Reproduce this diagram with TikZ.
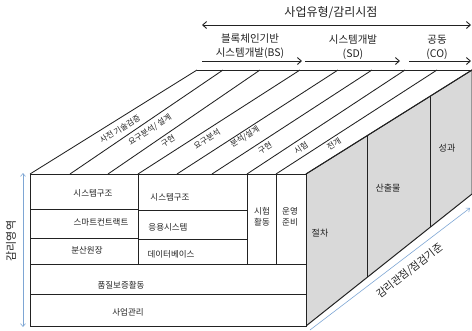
\documentclass[tikz,border=0pt]{standalone}
\usepackage{fontspec}
\setmainfont{Noto Sans CJK KR}
\usetikzlibrary{arrows.meta,calc}
\definecolor{sidegray}{HTML}{D9D9D9}
\definecolor{axisblue}{HTML}{7EA6D4}
\definecolor{ink}{HTML}{222222}
\begin{document}
\begin{tikzpicture}[x=1pt,y=-1pt,
  outline/.style={draw=ink,line width=1pt},
  stripe/.style={draw=ink,line width=0.85pt},
  ftxt/.style={font=\fontsize{8.5}{11}\selectfont,text=ink,inner sep=0pt,align=center},
  stxt/.style={font=\fontsize{8}{9}\selectfont,text=ink,inner sep=0pt,rotate=32.5},
  sidetxt/.style={font=\fontsize{9}{11}\selectfont,text=ink,inner sep=0pt},
  toptxt/.style={font=\fontsize{10.5}{14}\selectfont,text=ink,inner sep=0pt,align=center},
  toparrow/.style={draw=ink,line width=0.9pt,-{Straight Barb[length=4pt,width=7pt]}},
  bluearrow/.style={draw=axisblue,line width=0.6pt},
]
\useasboundingbox (0,0) rectangle (472,330);

% key corners
\coordinate (F1) at (30,174);
\coordinate (F2) at (306,174);
\coordinate (F3) at (306,326);
\coordinate (F4) at (30,326);
\coordinate (B0) at (197,70);
\coordinate (B8) at (472,70);
\coordinate (SB) at (472,194);

% top face
\fill[white] (F1) -- (B0) -- (B8) -- (F2) -- cycle;
\draw[draw=ink,line width=0.6pt] (B0) -- (B8);

% side face
\filldraw[fill=sidegray,outline] (F2) -- (B8) -- (SB) -- (F3) -- cycle;
\draw[outline] ($(F2)!0.3675!(B8)$) coordinate (d1t) -- ($(F3)!0.3675!(SB)$) coordinate (d1b);
\draw[outline] ($(F2)!0.747!(B8)$) coordinate (d2t) -- ($(F3)!0.747!(SB)$) coordinate (d2b);

% stripes on top face
\foreach \b/\t [count=\i] in {30/197,70/223,108/260,138/300,177/338,212/372,247/405,276/437,306/472}{
  \coordinate (sb\i) at (\b,174);
  \coordinate (st\i) at (\t,70);
  \draw[stripe] (sb\i) -- (st\i);
}

% front face
\filldraw[fill=white,outline] (F1) rectangle (F3);
\coordinate (v1t) at (138,174); \coordinate (v1b) at (138,264);
\coordinate (v2t) at (247,174); \coordinate (v2b) at (247,264);
\coordinate (v3t) at (276,174); \coordinate (v3b) at (276,264);
\draw[outline] (v1t) -- (v1b);
\draw[outline] (v2t) -- (v2b);
\draw[outline] (v3t) -- (v3b);
\coordinate (h1l) at (30,264); \coordinate (h1r) at (306,264);
\coordinate (h2l) at (30,294); \coordinate (h2r) at (306,294);
\draw[outline] (h1l) -- (h1r);
\draw[outline] (h2l) -- (h2r);
\coordinate (a1l) at (30,209); \coordinate (a1r) at (138,209);
\coordinate (a2l) at (30,238); \coordinate (a2r) at (138,238);
\coordinate (m1l) at (138,210); \coordinate (m1r) at (247,210);
\coordinate (m2l) at (138,239); \coordinate (m2r) at (247,239);
\draw[outline] (a1l) -- (a1r);
\draw[outline] (a2l) -- (a2r);
\draw[outline] (m1l) -- (m1r);
\draw[outline] (m2l) -- (m2r);

% front texts
\node[ftxt] (t1) at (93,193) {시스템구조};
\node[ftxt] (t2) at (101,222) {스마트컨트랙트};
\node[ftxt] (t3) at (87,250) {분산원장};
\node[ftxt] (t4) at (170,197) {시스템구조};
\node[ftxt] (t5) at (168,227) {응용시스템};
\node[ftxt] (t6) at (171,254) {데이터베이스};
\node[ftxt] (t7) at (262,217) {시험\\활동};
\node[ftxt] (t8) at (290,217) {운영\\준비};
\node[ftxt] (t9) at (121,285) {품질보증활동};
\node[ftxt] (t10) at (128,312) {사업관리};

% stripe labels
\node[stxt] (s1) at (120,129) {사전 기술검증};
\node[stxt] (s2) at (150,130) {요구분석/ 설계};
\node[stxt] (s3) at (168,141) {구현};
\node[stxt] (s4) at (207,139) {요구분석};
\node[stxt] (s5) at (245,137) {분석/설계};
\node[stxt] (s6) at (265,148) {구현};
\node[stxt] (s7) at (301,148) {시험};
\node[stxt] (s8) at (334,144) {전개};

% side labels
\node[sidetxt] (p1) at (320,233) {절차};
\node[sidetxt] (p2) at (388,188) {산출물};
\node[sidetxt] (p3) at (447,148) {성과};

% top labels and arrows
\node[font=\fontsize{12}{14}\selectfont,text=ink,inner sep=0pt] (title) at (331,13) {사업유형/감리시점};
\coordinate (ta1) at (202,25); \coordinate (ta2) at (471,25);
\draw[draw=ink,line width=0.9pt,{Straight Barb[length=4pt,width=7pt]}-{Straight Barb[length=4pt,width=7pt]}] (ta1) -- (ta2);
\node[toptxt] (bs) at (250,46) {블록체인기반\\시스템개발(BS)};
\node[toptxt] (sd) at (353,47) {시스템개발\\(SD)};
\node[toptxt] (co) at (437,47) {공동\\(CO)};
\coordinate (ba1) at (202,61); \coordinate (ba2) at (302,61);
\coordinate (ba3) at (305,61); \coordinate (ba4) at (400,61);
\coordinate (ba5) at (409,61); \coordinate (ba6) at (471,61);
\draw[toparrow] (ba1) -- (ba2);
\draw[toparrow] (ba3) -- (ba4);
\draw[toparrow] (ba5) -- (ba6);

% left axis
\coordinate (la1) at (23,173); \coordinate (la2) at (23,327);
\draw[bluearrow,{Straight Barb[length=3pt,width=5pt]}-{Straight Barb[length=3pt,width=5pt]}] (la1) -- (la2);
\node[font=\fontsize{11}{13}\selectfont,text=ink,inner sep=0pt,rotate=90] (lab1) at (11,241) {감리영역};

% bottom axis
\coordinate (ra1) at (310,330); \coordinate (ra2) at (470,208);
\draw[bluearrow,-{Straight Barb[length=3pt,width=5pt]}] (ra1) -- (ra2);
\node[font=\fontsize{10.5}{12}\selectfont,text=ink,inner sep=0pt,rotate=38] (lab2) at (410,271) {감리관점/점검기준};
\end{tikzpicture}
\end{document}
